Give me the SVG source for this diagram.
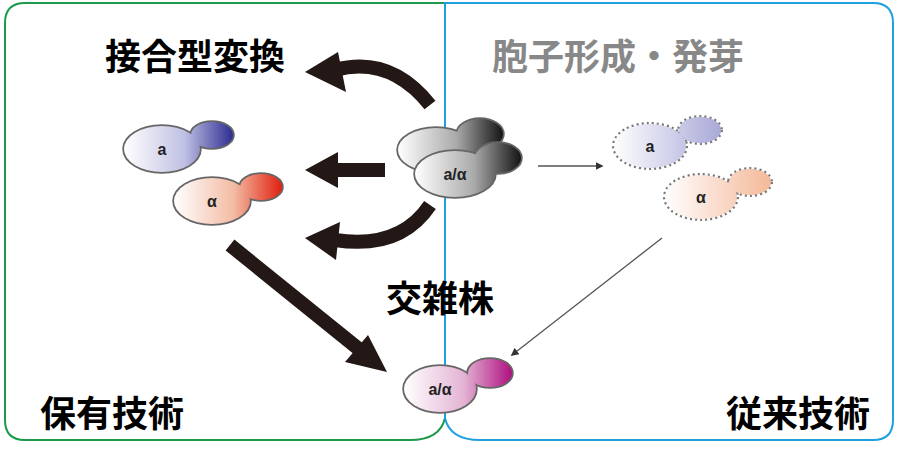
<svg xmlns="http://www.w3.org/2000/svg" width="902" height="458" viewBox="0 0 902 458">
<style>
.t{font-family:"Noto Sans CJK JP","Liberation Sans",sans-serif;font-weight:bold;font-size:36px;text-anchor:middle}
.c{stroke:#666;stroke-width:3.5}
.d{stroke:#777;stroke-width:4;stroke-dasharray:2 3}
.l{font-family:"Liberation Sans",sans-serif;font-weight:bold;font-size:16px;text-anchor:middle;fill:#222}
.thick{fill:none;stroke:#231815;stroke-width:14}
.thin{fill:none;stroke:#555;stroke-width:1.3}
</style>
<defs>
<linearGradient id="g1" gradientUnits="userSpaceOnUse" x1="124" x2="234"><stop offset="0" stop-color="#fff"/><stop offset="0.55" stop-color="#c0c0e4"/><stop offset="1" stop-color="#2a2a90"/></linearGradient>
<linearGradient id="g2" gradientUnits="userSpaceOnUse" x1="174" x2="282"><stop offset="0" stop-color="#fff"/><stop offset="0.55" stop-color="#f3bca4"/><stop offset="1" stop-color="#e02010"/></linearGradient>
<linearGradient id="g3" gradientUnits="userSpaceOnUse" x1="398" x2="504"><stop offset="0" stop-color="#fff"/><stop offset="0.55" stop-color="#aaa"/><stop offset="1" stop-color="#111"/></linearGradient>
<linearGradient id="g4" gradientUnits="userSpaceOnUse" x1="415" x2="522"><stop offset="0" stop-color="#fff"/><stop offset="0.55" stop-color="#aaa"/><stop offset="1" stop-color="#111"/></linearGradient>
<linearGradient id="g5" gradientUnits="userSpaceOnUse" x1="613" x2="722"><stop offset="0" stop-color="#fff"/><stop offset="1" stop-color="#a8a8d8"/></linearGradient>
<linearGradient id="g6" gradientUnits="userSpaceOnUse" x1="664" x2="772"><stop offset="0" stop-color="#fff"/><stop offset="1" stop-color="#f4b898"/></linearGradient>
<linearGradient id="g7" gradientUnits="userSpaceOnUse" x1="404" x2="512"><stop offset="0" stop-color="#fff"/><stop offset="0.55" stop-color="#e4b4d4"/><stop offset="1" stop-color="#b01080"/></linearGradient>
<marker id="ah" viewBox="0 0 10 10" refX="8" refY="5" markerWidth="8" markerHeight="8" orient="auto" markerUnits="userSpaceOnUse"><path d="M0,0L10,5L0,10z" fill="#333"/></marker>
</defs>
<rect width="902" height="458" fill="#fff"/>
<path d="M445,3 H25 Q5,3 5,23 V420 Q5,440 25,440 H410 Q440,440 445,418 Z" fill="none" stroke="#1a9a4a" stroke-width="2"/>
<path d="M445,3 H873 Q893,3 893,23 V420 Q893,440 873,440 H480 Q450,440 445,418 Z" fill="none" stroke="#20a0e0" stroke-width="2"/>
<g id="labels">
<text class="t" x="195" y="70">接合型変換</text>
<text class="t" x="618" y="70" fill="#888">胞子形成・発芽</text>
<text class="t" x="440" y="312">交雑株</text>
<text class="t" x="112" y="427">保有技術</text>
<text class="t" x="798" y="427">従来技術</text>
</g>
<g id="connectors">
<path class="thick" d="M430,105 Q390,55 335,70"/>
<path d="M305,72 L338,52 L346,92 Z" fill="#231815"/>
<path class="thick" d="M385,170 H335"/>
<path d="M305,170 L338,152 L338,188 Z" fill="#231815"/>
<path class="thick" d="M430,205 Q400,250 335,240"/>
<path d="M305,238 L340,222 L336,260 Z" fill="#231815"/>
<path class="thick" d="M230,245 L360,350"/>
<path d="M387,372 L345,362 L368,335 Z" fill="#231815"/>
<path class="thin" d="M538,166 H602" marker-end="url(#ah)"/>
<path class="thin" d="M662,238 L512,355" marker-end="url(#ah)"/>
</g>
<g id="cell-a">
<g class="c" fill="url(#g1)"><ellipse cx="212" cy="135" rx="21" ry="13"/><ellipse cx="162" cy="149" rx="38" ry="23"/></g>
<g fill="url(#g1)"><ellipse cx="212" cy="135" rx="21" ry="13"/><ellipse cx="162" cy="149" rx="38" ry="23"/></g>
<text class="l" x="162" y="155">a</text>
</g>
<g id="cell-alpha">
<g class="c" fill="url(#g2)"><ellipse cx="261" cy="187" rx="21" ry="13"/><ellipse cx="212" cy="201" rx="38" ry="23"/></g>
<g fill="url(#g2)"><ellipse cx="261" cy="187" rx="21" ry="13"/><ellipse cx="212" cy="201" rx="38" ry="23"/></g>
<text class="l" x="212" y="207">α</text>
</g>
<g id="cell-hybrid">
<g class="c" fill="url(#g3)"><ellipse cx="480" cy="134" rx="23" ry="15"/><ellipse cx="436" cy="150" rx="38" ry="22"/></g>
<g fill="url(#g3)"><ellipse cx="480" cy="134" rx="23" ry="15"/><ellipse cx="436" cy="150" rx="38" ry="22"/></g>
<g class="c" fill="url(#g4)"><ellipse cx="498" cy="158" rx="23" ry="15"/><ellipse cx="455" cy="174" rx="40" ry="23"/></g>
<g fill="url(#g4)"><ellipse cx="498" cy="158" rx="23" ry="15"/><ellipse cx="455" cy="174" rx="40" ry="23"/></g>
<text class="l" x="455" y="180">a/α</text>
</g>
<g id="cell-a-spore">
<g class="d" fill="url(#g5)"><ellipse cx="700" cy="130" rx="21" ry="13"/><ellipse cx="650" cy="146" rx="36" ry="22"/></g>
<g fill="url(#g5)"><ellipse cx="700" cy="130" rx="21" ry="13"/><ellipse cx="650" cy="146" rx="36" ry="22"/></g>
<text class="l" x="650" y="152">a</text>
</g>
<g id="cell-alpha-spore">
<g class="d" fill="url(#g6)"><ellipse cx="750" cy="182" rx="21" ry="13"/><ellipse cx="701" cy="197" rx="36" ry="22"/></g>
<g fill="url(#g6)"><ellipse cx="750" cy="182" rx="21" ry="13"/><ellipse cx="701" cy="197" rx="36" ry="22"/></g>
<text class="l" x="701" y="203">α</text>
</g>
<g id="cell-result">
<g class="c" fill="url(#g7)"><ellipse cx="490" cy="373" rx="22" ry="14"/><ellipse cx="440" cy="389" rx="36" ry="23"/></g>
<g fill="url(#g7)"><ellipse cx="490" cy="373" rx="22" ry="14"/><ellipse cx="440" cy="389" rx="36" ry="23"/></g>
<text class="l" x="440" y="395">a/α</text>
</g>
</svg>
